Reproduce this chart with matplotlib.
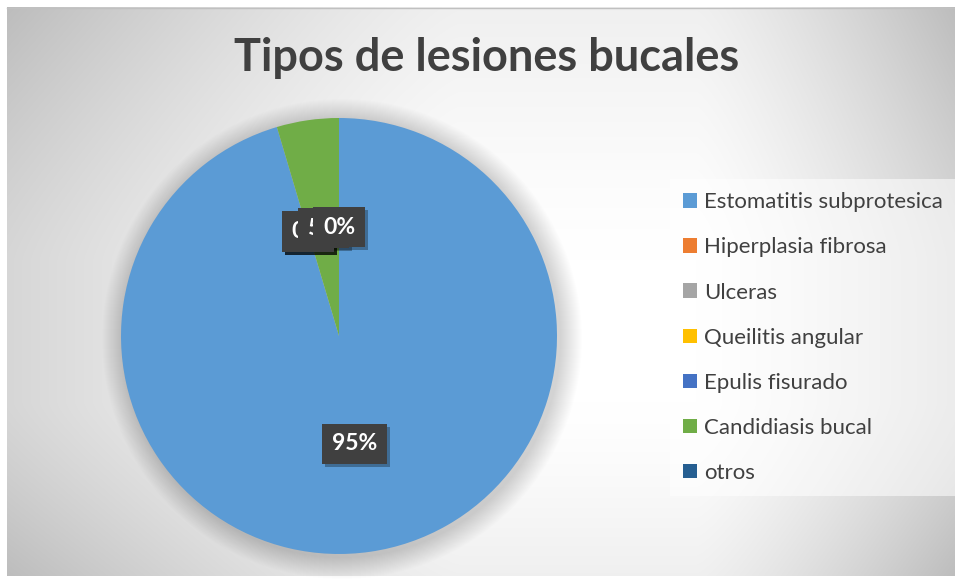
import numpy as np
import matplotlib
matplotlib.use("Agg")
import matplotlib.pyplot as plt
from matplotlib.transforms import offset_copy

title = "Tipos de lesiones bucales"
categories = ["Estomatitis subprotesica", "Hiperplasia fibrosa", "Ulceras",
              "Queilitis angular", "Epulis fisurado", "Candidiasis bucal", "otros"]
values = [95.4, 0, 0, 0, 0, 4.6, 0]
colors = ["#5B9BD5", "#ED7D31", "#A5A5A5", "#FFC000", "#4472C4", "#70AD47", "#255E91"]

W, H = 955, 579
fig = plt.figure(figsize=(W / 100, H / 100), dpi=100)
fig.patch.set_facecolor("white")

# background gradient axes (pixel coordinates)
bg = fig.add_axes([0, 0, 1, 1])
bg.set_xlim(0, W)
bg.set_ylim(H, 0)
bg.axis("off")
x0, x1, y0, y1 = 7, 955, 7, 576
xs = np.arange(x0, x1) + 0.5
ys = np.arange(y0, y1) + 0.5
X, Y = np.meshgrid(xs, ys)
cx, cy = 610, 345
u = np.where(X < cx, (cx - X) / (cx - x0), (X - cx) / (x1 - cx))
v = np.where(Y < cy, (cy - Y) / (cy - y0), (Y - cy) / (y1 - cy))
fu = np.clip((u - 0.25) / 0.75, 0, 1) ** 1.3
fv = np.clip((v - 0.25) / 0.75, 0, 1) ** 1.3
g = 1 - 0.16 * fu - 0.06 * fv - 0.04 * fu * fv
img = np.dstack([g, g, g])
bg.imshow(img, extent=(x0, x1, y1, y0), interpolation="bilinear", aspect="auto", zorder=0)
bg.plot([x0, x1], [y0 + 0.5, y0 + 0.5], color="#c0c0c0", lw=1, zorder=1)

# pie axes
pcx, pcy, R = 339, 336, 218
side = 2.5 * R
ax = fig.add_axes([(pcx - side / 2) / W, (H - pcy - side / 2) / H, side / W, side / H])
ax.set_facecolor("none")
# soft shadow
for i in range(22, 0, -1):
    circ = plt.Circle((3 / R, -3 / R), 1 + i / R, color="black", alpha=0.006, lw=0, zorder=0)
    ax.add_patch(circ)

fs = 16.5
wedges, texts, autotexts = ax.pie(
    values, colors=colors, startangle=90, counterclock=False,
    autopct="%1.0f%%", pctdistance=0.5,
    wedgeprops=dict(linewidth=0),
    textprops=dict(color="white", fontsize=fs, fontweight="bold", family="Lato"),
)
for w in wedges:
    w.set_zorder(2)
for t in autotexts:
    t.set_zorder(5)
    t.set_bbox(dict(boxstyle="square,pad=0.42", facecolor="#404040", edgecolor="none"))
    xx, yy = t.get_position()
    ax.text(xx, yy, t.get_text(), ha="center", va="center", fontsize=fs, fontweight="bold",
            family="Lato", color="none",
            transform=offset_copy(ax.transData, fig=fig, x=3, y=-3, units="dots"),
            bbox=dict(boxstyle="square,pad=0.42", facecolor="black", alpha=0.3, edgecolor="none"),
            zorder=4)
ax.set_xlim(-1.25, 1.25)
ax.set_ylim(-1.25, 1.25)
ax.set_aspect("equal")
ax.axis("off")

fig.text(487 / W, 1 - 58 / H, title, ha="center", va="center", fontsize=32.5,
         fontweight="bold", color="#404040", family="Lato")

leg = fig.legend(wedges, categories, loc="upper left",
                 bbox_to_anchor=(670 / W, 1 - 179 / H), frameon=True,
                 prop=dict(family="Lato", size=16), labelcolor="#404040",
                 handlelength=0.63, handleheight=0.63, handletextpad=0.3,
                 labelspacing=1.13, borderpad=0.6, borderaxespad=0, fancybox=False)
fr = leg.get_frame()
fr.set_facecolor("white")
fr.set_alpha(0.55)
fr.set_edgecolor("none")

fig.savefig("out.png", dpi=100)
